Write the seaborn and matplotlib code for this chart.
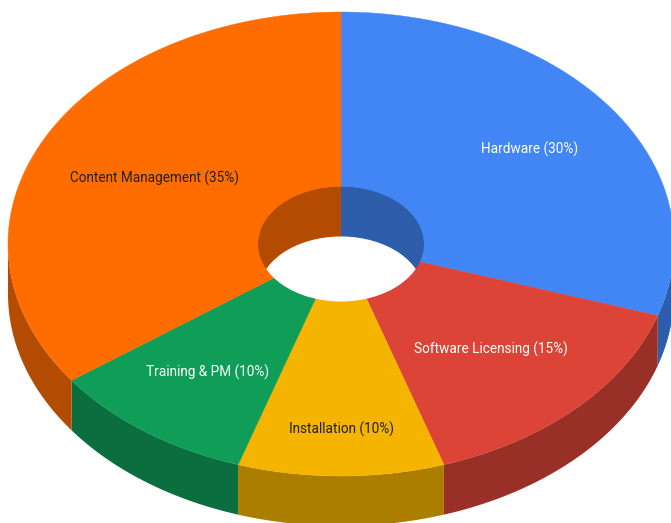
import numpy as np
import matplotlib
matplotlib.use("Agg")
import matplotlib.pyplot as plt
import matplotlib.colors as mcolors
from matplotlib.patches import Polygon, Ellipse
import seaborn as sns

# slices, clockwise from 12 o'clock
labels = ["Hardware", "Software Licensing", "Installation", "Training & PM", "Content Management"]
shares = [30, 15, 10, 10, 35]
colors = ["#4285F4", "#DB4437", "#F4B400", "#0F9D58", "#FF6D00"]
text_colors = ["white", "white", "#222222", "white", "#222222"]
label_r = [0.70, 0.635, 0.795, 0.68, 0.63]

sns.set_style("white")
plt.rcParams["font.family"] = ["Roboto", "DejaVu Sans"]

# ellipse geometry (pixels)
cx, cy = 341, 244
rx, ry = 333, 232
hrx, hry = 83, 57.5
depth = 50

def dark(c, f=0.7):
    r, g, b = mcolors.to_rgb(c)
    return (r * f, g * f, b * f)

def arc(a0, a1, ax_, ay_, dy=0, n=200):
    t = np.radians(np.linspace(a0, a1, n))
    return np.column_stack([cx + ax_ * np.sin(t), cy - ay_ * np.cos(t) + dy])

fig = plt.figure(figsize=(6.71, 5.23), dpi=100)
ax = fig.add_axes([0, 0, 1, 1])
ax.set_xlim(0, 671)
ax.set_ylim(523, 0)
ax.axis("off")

bounds = np.cumsum([0] + shares) * 3.6

# outer side walls (front half only)
for i in range(len(shares)):
    a0, a1 = max(bounds[i], 90), min(bounds[i + 1], 270)
    if a1 <= a0:
        continue
    top = arc(a0, a1, rx, ry)
    bot = arc(a0, a1, rx, ry, depth)[::-1]
    ax.add_patch(Polygon(np.vstack([top, bot]), closed=True, fc=dark(colors[i]), ec="none", lw=0))

# top faces
for i in range(len(shares)):
    pts = np.vstack([[[cx, cy]], arc(bounds[i], bounds[i + 1], rx, ry)])
    ax.add_patch(Polygon(pts, closed=True, fc=colors[i], ec=colors[i], lw=0.3))

# hole: back inner wall, then see-through part
hole = Ellipse((cx, cy), 2 * hrx, 2 * hry, fc="none", ec="none")
ax.add_patch(hole)
for i in range(len(shares)):
    for lo, hi in [(-90, 90), (270, 450)]:
        a0, a1 = max(bounds[i], lo), min(bounds[i + 1], hi)
        if a1 <= a0:
            continue
        top = arc(a0, a1, hrx, hry)
        bot = arc(a0, a1, hrx, hry, depth)[::-1]
        p = Polygon(np.vstack([top, bot]), closed=True, fc=dark(colors[i]), ec="none", lw=0)
        ax.add_patch(p)
        p.set_clip_path(hole)
see = Ellipse((cx, cy + depth), 2 * hrx, 2 * hry, fc="white", ec="none")
ax.add_patch(see)
see.set_clip_path(hole)

# labels
for i in range(len(shares)):
    mid = np.radians((bounds[i] + bounds[i + 1]) / 2)
    x = cx + rx * label_r[i] * np.sin(mid)
    y = cy - ry * label_r[i] * np.cos(mid) + 1
    ax.text(x, y, f"{labels[i]} ({shares[i]}%)", ha="center", va="center",
            fontsize=9.8, color=text_colors[i])

fig.savefig("out.png", dpi=100)
